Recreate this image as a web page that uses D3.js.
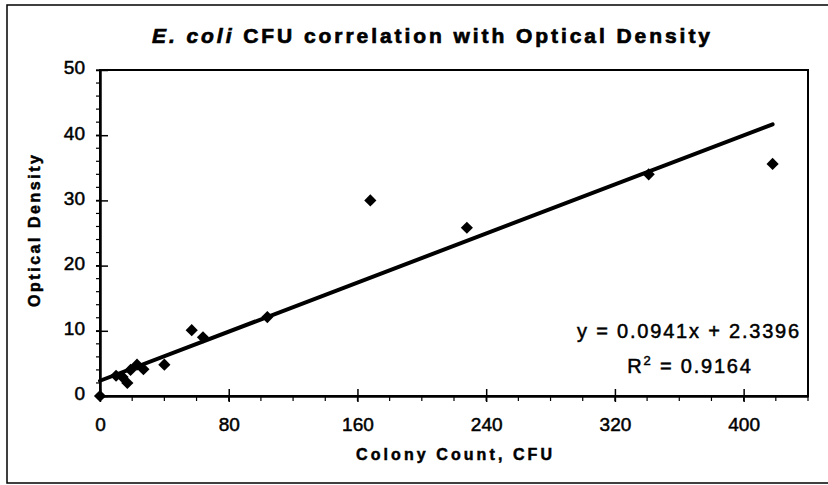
<!DOCTYPE html>
<html>
<head>
<meta charset="utf-8">
<script src="https://cdn.jsdelivr.net/npm/d3@7"></script>
<style>
  body { margin: 0; background: #fff; }
  svg { display: block; font-family: "Liberation Sans", Arial, sans-serif; }
</style>
</head>
<body>
<svg id="chart"></svg>
<script>
// colony count (CFU) and optical density
const cfu = [0, 10, 14, 17, 19, 23, 27, 40, 57, 64, 104, 168, 228, 341, 418];
const od  = [0, 3.1, 2.9, 2.0, 4.0, 4.8, 4.1, 4.8, 10.1, 9.0, 12.1, 30, 25.8, 34, 35.6];

const xTicks = [0, 80, 160, 240, 320, 400];
const yTicks = [0, 10, 20, 30, 40, 50];

// linear trendline from the chart
const slope = 0.0941, intercept = 2.3396, rSquared = 0.9164;
const trendX = [0, 418];

const W = 828, H = 485;
const margin = {top: 70, right: 20, bottom: 89, left: 100};
const width = W - margin.left - margin.right,
      height = H - margin.top - margin.bottom;

const svg = d3.select("#chart").attr("width", W).attr("height", H);

// outer frame of the scanned chart
svg.append("rect")
    .attr("x", 7).attr("y", 5)
    .attr("width", 840).attr("height", 478)
    .attr("fill", "none").attr("stroke", "#000").attr("stroke-width", 1.5);

const x = d3.scaleLinear().domain([0, 440]).range([0, width]);
const y = d3.scaleLinear().domain([0, 50]).range([height, 0]);

const g = svg.append("g")
    .attr("transform", "translate(" + margin.left + "," + margin.top + ")");

// plot area box
g.append("rect")
    .attr("width", width).attr("height", height)
    .attr("fill", "none").attr("stroke", "#000").attr("stroke-width", 2);

// minor ticks (outside)
const xMinor = d3.range(0, 441, 20);
const yMinor = d3.range(0, 51, 2);
g.append("g").selectAll("line").data(xMinor).join("line")
    .attr("x1", d => x(d)).attr("x2", d => x(d))
    .attr("y1", height).attr("y2", height + 5)
    .attr("stroke", "#000").attr("stroke-width", 1.2);
g.append("g").selectAll("line").data(yMinor).join("line")
    .attr("x1", -4).attr("x2", 0)
    .attr("y1", d => y(d)).attr("y2", d => y(d))
    .attr("stroke", "#000").attr("stroke-width", 1.2);

// major ticks crossing the axis
const xAxis = d3.axisBottom(x).tickValues(xTicks).tickSizeInner(13).tickSizeOuter(0).tickPadding(8);
const yAxis = d3.axisLeft(y).tickValues(yTicks).tickSizeInner(12).tickSizeOuter(0).tickPadding(9);

const gx = g.append("g")
    .attr("transform", "translate(0," + height + ")")
    .call(xAxis);
gx.selectAll(".tick line").attr("y1", -7).attr("y2", 6).attr("stroke-width", 1.5);
gx.select(".domain").attr("stroke-width", 2.5);
gx.selectAll(".tick text")
    .attr("font-size", 19).attr("fill", "#000")
    .attr("stroke", "#000").attr("stroke-width", 0.5)
    .attr("font-family", "'Liberation Sans', Arial, sans-serif")
    .attr("y", 22).attr("dy", "0.71em");

const gy = g.append("g").call(yAxis);
gy.selectAll(".tick line").attr("x1", 8).attr("x2", -4).attr("stroke-width", 1.5);
gy.select(".domain").attr("stroke-width", 2.5);
gy.selectAll(".tick text")
    .attr("font-size", 19).attr("fill", "#000")
    .attr("stroke", "#000").attr("stroke-width", 0.5)
    .attr("font-family", "'Liberation Sans', Arial, sans-serif")
    .attr("x", -15).attr("dy", "0.2em");

// trendline
g.append("path")
    .datum(trendX)
    .attr("d", d3.line().x(d => x(d)).y(d => y(slope * d + intercept)))
    .attr("fill", "none")
    .attr("stroke", "#000")
    .attr("stroke-width", 4)
    .attr("stroke-linecap", "round");

// data points, diamonds
const pts = cfu.map((c, i) => ({c: c, o: od[i]}));
g.append("g").selectAll("path").data(pts).join("path")
    .attr("d", d3.symbol().type(d3.symbolSquare).size(74))
    .attr("transform", d => "translate(" + x(d.c) + "," + y(d.o) + ") rotate(45)")
    .attr("fill", "#000");

// equation text
svg.append("text")
    .attr("x", 689).attr("y", 338)
    .attr("text-anchor", "middle")
    .attr("font-size", 20).attr("letter-spacing", 1.8)
    .attr("stroke", "#000").attr("stroke-width", 0.5)
    .text("y = " + slope + "x + " + intercept);

const r2 = svg.append("text")
    .attr("x", 690).attr("y", 373)
    .attr("text-anchor", "middle")
    .attr("font-size", 20).attr("letter-spacing", 1.8)
    .attr("stroke", "#000").attr("stroke-width", 0.5);
r2.append("tspan").text("R");
r2.append("tspan").attr("font-size", 13).attr("dy", -8).text("2");
r2.append("tspan").attr("dy", 8).text(" = " + rSquared);

// title
const title = svg.append("text")
    .attr("x", 431).attr("y", 43)
    .attr("text-anchor", "middle")
    .attr("font-size", 21).attr("font-weight", "bold")
    .attr("stroke", "#000").attr("stroke-width", 0.7)
    .attr("textLength", 558).attr("lengthAdjust", "spacing");
title.append("tspan").attr("font-style", "italic").text("E. coli");
title.append("tspan").text(" CFU correlation with Optical Density");

// axis titles
svg.append("text")
    .attr("x", 454).attr("y", 460)
    .attr("text-anchor", "middle")
    .attr("font-size", 16).attr("font-weight", "bold")
    .attr("stroke", "#000").attr("stroke-width", 0.5)
    .attr("textLength", 196).attr("lengthAdjust", "spacing")
    .text("Colony Count, CFU");

svg.append("text")
    .attr("transform", "translate(40,231) rotate(-90)")
    .attr("text-anchor", "middle")
    .attr("font-size", 16).attr("font-weight", "bold")
    .attr("stroke", "#000").attr("stroke-width", 0.5)
    .attr("textLength", 152).attr("lengthAdjust", "spacing")
    .text("Optical Density");
</script>
</body>
</html>
